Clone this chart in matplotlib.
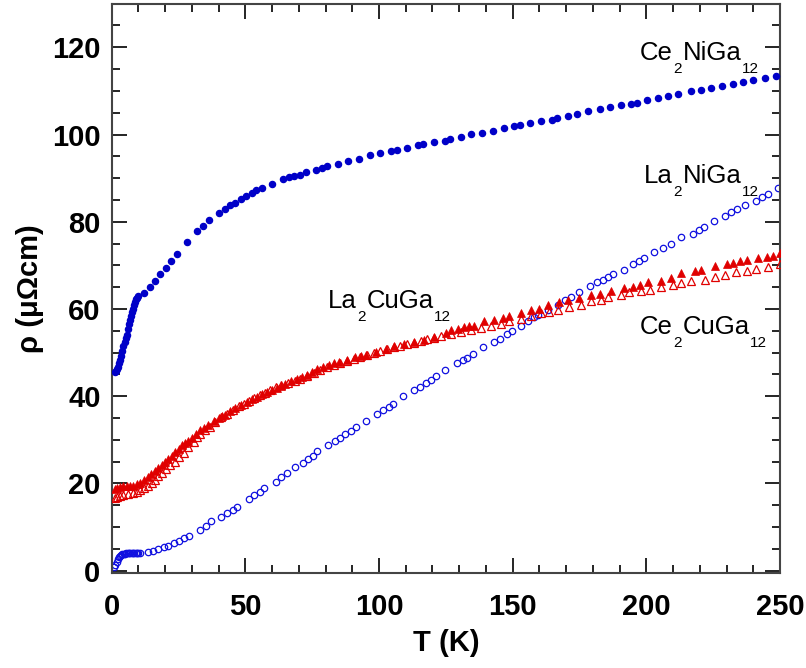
import numpy as np
import matplotlib
matplotlib.use('Agg')
import matplotlib.pyplot as plt
from matplotlib.ticker import MultipleLocator
from matplotlib.transforms import offset_copy

# Ce2NiGa12 - filled blue circles
ce_ni_T = [1.2, 1.6, 2.0, 2.4, 2.8, 3.2, 3.6, 4.0, 4.4, 4.8, 5.2, 5.6, 6.0, 6.4, 6.8, 7.2, 7.6,
           8.0, 8.4, 8.8, 9.2, 9.6, 10.0, 12.2, 14.2, 16.2, 18.2, 20.3, 22.2, 24.3, 28.3, 32.0,
           34.2, 36.3, 40.2, 42.2, 44.2, 46.2, 48.2, 50.1, 52.3, 54.1, 56.3, 60.1, 64.1, 66.2,
           68.2, 70.3, 72.5, 76.5, 78.7, 80.6, 84.7, 88.5, 92.5, 96.5, 100.5, 104.4, 106.6,
           110.6, 114.5, 116.6, 120.6, 124.5, 126.6, 130.6, 134.6, 138.6, 142.6, 146.6, 150.6,
           152.6, 156.6, 160.6, 164.6, 166.6, 170.6, 173.9, 178.3, 182.6, 186.4, 190.5, 194.2,
           196.4, 200.3, 204.2, 208.2, 212.0, 216.6, 220.4, 224.2, 228.5, 232.3, 236.3, 240.0,
           244.4, 248.5]
ce_ni_rho = [45.5, 45.8, 46.3, 46.8, 47.5, 48.3, 49.3, 50.4, 51.4, 52.4, 53.3, 54.0, 55.3, 56.5,
             57.4, 58.3, 59.2, 60.0, 60.8, 61.6, 62.2, 62.6, 62.9, 63.7, 65.1, 66.5, 68.0, 69.4,
             70.9, 72.5, 75.4, 77.8, 79.1, 80.3, 82.0, 83.0, 83.8, 84.4, 85.2, 85.9, 86.5, 87.2,
             87.8, 88.6, 89.7, 90.2, 90.5, 90.8, 91.3, 91.9, 92.3, 92.7, 93.3, 94.0, 94.5, 95.2,
             95.7, 96.2, 96.4, 97.0, 97.5, 97.9, 98.3, 98.6, 99.0, 99.5, 100.1, 100.4, 100.9,
             101.5, 101.9, 102.2, 102.6, 103.1, 103.4, 103.7, 104.3, 104.7, 105.3, 105.9, 106.3,
             106.7, 107.1, 107.3, 107.9, 108.3, 108.9, 109.3, 109.9, 110.2, 110.6, 111.2, 111.6,
             112.0, 112.5, 113.0, 113.5]

# La2NiGa12 - open blue circles
la_ni_T = [1.0, 1.4, 1.8, 2.2, 2.6, 3.0, 3.5, 4.0, 4.5, 5.0, 5.5, 6.0, 6.5, 7.0, 7.5, 8.0, 8.5,
           9.0, 9.5, 10.0, 10.6, 13.7, 15.6, 17.5, 19.4, 21.2, 23.4, 25.3, 27.2, 29.1, 33.1,
           35.4, 37.2, 41.0, 43.2, 45.2, 46.8, 51.5, 53.4, 55.5, 56.9, 61.5, 63.5, 65.4, 68.7,
           71.6, 73.4, 75.4, 76.9, 80.9, 83.5, 85.3, 87.2, 89.4, 91.3, 95.0, 99.4, 101.6, 103.7,
           105.4, 109.1, 113.1, 115.3, 117.5, 119.6, 121.5, 124.7, 129.2, 131.5, 133.1, 135.0,
           138.8, 143.0, 145.3, 147.8, 149.9, 153.1, 155.9, 158.1, 159.6, 163.1, 166.9, 169.7,
           171.8, 175.0, 179.1, 181.5, 183.7, 185.6, 187.5, 191.6, 195.0, 197.1, 199.1, 202.9,
           206.2, 209.3, 213.1, 217.5, 219.6, 221.6, 225.4, 229.6, 231.8, 233.9, 236.8, 241.2,
           243.1, 245.6, 249.3]
la_ni_rho = [0.9, 1.4, 2.1, 2.7, 3.1, 3.4, 3.6, 3.75, 3.85, 3.9, 4.0, 4.0, 4.05, 4.05, 4.1, 4.1,
             4.1, 4.1, 4.1, 4.15, 4.15, 4.35, 4.6, 4.9, 5.35, 5.7, 6.3, 6.8, 7.4, 8.0, 9.3, 10.3,
             11.3, 12.4, 13.2, 14.0, 14.6, 16.4, 17.3, 18.1, 19.0, 20.4, 21.4, 22.3, 23.7, 24.7,
             25.6, 26.3, 27.4, 28.8, 29.7, 30.5, 31.3, 32.0, 32.9, 34.4, 35.9, 36.8, 37.6, 38.3,
             40.1, 41.4, 42.1, 43.0, 43.8, 44.6, 46.1, 47.5, 48.3, 48.8, 49.6, 51.3, 52.4, 53.2,
             54.2, 54.9, 56.2, 57.2, 58.1, 58.7, 59.7, 61.0, 62.1, 62.7, 64.0, 65.2, 66.1, 66.7,
             67.4, 68.1, 69.0, 70.3, 70.9, 71.7, 73.0, 73.9, 74.8, 76.4, 77.3, 78.1, 78.7, 80.1,
             81.4, 82.2, 82.9, 83.9, 84.8, 85.6, 86.4, 87.7]

# CuGa12 pair - filled red triangles
cu_fill_T = [1.2, 2.0, 3.1, 4.4, 5.6, 6.8, 8.1, 9.4, 10.6, 12.0, 13.4, 14.8, 16.2, 17.5, 18.7,
             20.0, 21.2, 22.5, 23.7, 25.0, 26.2, 27.5, 28.7, 30.0, 31.5, 33.1, 34.6, 36.2, 38.1,
             40.0, 41.2, 42.5, 44.4, 46.2, 48.4, 50.6, 52.5, 54.4, 56.2, 58.1, 60.0, 61.9, 63.5,
             65.0, 67.2, 69.4, 71.2, 73.1, 75.0, 76.9, 79.0, 81.2, 83.1, 85.0, 88.1, 91.2, 93.1,
             95.0, 98.7, 102.5, 105.6, 109.3, 113.1, 116.8, 120.6, 125.0, 126.8, 129.4, 131.9,
             133.8, 135.6, 139.3, 143.1, 146.2, 148.7, 153.1, 156.8, 160.0, 163.1, 167.5, 170.6,
             175.0, 179.3, 182.5, 186.8, 191.6, 195.0, 197.5, 200.6, 205.6, 209.3, 213.1, 218.1,
             220.6, 225.6, 230.0, 232.5, 235.0, 237.5, 241.8, 245.0, 247.5, 250.0]
cu_fill_rho = [18.7, 19.0, 19.2, 19.3, 19.4, 19.4, 19.4, 19.8, 20.0, 20.8, 21.5, 22.2, 22.8,
               23.6, 24.2, 24.9, 25.6, 26.4, 27.2, 28.0, 28.8, 29.3, 29.8, 30.4, 31.3, 32.2,
               32.8, 33.5, 34.2, 34.9, 35.4, 35.8, 36.6, 37.3, 38.0, 38.7, 39.3, 39.8, 40.4,
               41.0, 41.5, 41.9, 42.4, 42.8, 43.4, 44.0, 44.5, 44.9, 45.6, 46.3, 46.7, 47.1,
               47.5, 47.9, 48.3, 49.0, 49.3, 49.5, 50.2, 50.9, 51.4, 52.0, 52.5, 53.0, 53.6,
               54.6, 55.1, 55.5, 55.8, 56.0, 56.2, 57.2, 57.5, 58.0, 58.3, 59.0, 59.7, 60.0,
               61.0, 61.6, 62.1, 62.6, 63.1, 63.5, 64.1, 64.9, 65.1, 65.4, 66.1, 66.5, 67.1,
               68.2, 68.6, 69.0, 69.9, 70.3, 70.6, 70.9, 71.3, 71.7, 72.0, 72.2, 72.8]

# CuGa12 pair - open red triangles
cu_open_T = [1.2, 2.0, 3.0, 4.4, 6.0, 8.1, 9.4, 10.6, 12.0, 13.7, 15.0, 16.2, 17.5, 18.7, 20.3,
             21.9, 23.7, 25.3, 26.9, 28.7, 30.6, 31.8, 33.1, 34.9, 36.9, 38.7, 41.0, 43.1, 45.3,
             47.5, 49.4, 51.2, 53.1, 55.6, 57.5, 59.4, 61.5, 63.5, 66.0, 68.5, 70.6, 73.1, 75.5,
             78.0, 80.5, 83.0, 85.5, 88.0, 90.5, 93.0, 95.5, 98.0, 100.5, 103.0, 105.6, 108.0,
             110.6, 113.1, 115.6, 118.1, 120.6, 123.1, 126.8, 130.6, 134.4, 138.0, 141.9, 145.6,
             148.7, 153.1, 156.8, 160.6, 163.7, 166.9, 171.2, 175.6, 179.3, 183.1, 185.8, 190.6,
             193.7, 198.1, 201.2, 205.6, 210.0, 213.1, 216.9, 221.8, 225.6, 229.3, 233.7, 237.5,
             241.2, 245.6, 250.0]
cu_open_rho = [16.6, 16.9, 17.1, 17.3, 17.5, 17.7, 18.0, 18.5, 18.9, 19.4, 20.1, 20.8, 21.6,
               22.3, 23.3, 24.2, 25.0, 26.0, 26.9, 28.3, 29.6, 30.6, 31.4, 32.2, 33.0, 34.0,
               35.2, 36.0, 36.9, 37.7, 38.3, 38.9, 39.5, 40.2, 40.8, 41.4, 42.0, 42.5, 43.0,
               43.6, 44.0, 44.7, 45.4, 46.0, 46.6, 47.2, 47.6, 48.1, 48.6, 49.0, 49.4, 49.9,
               50.4, 50.8, 51.2, 51.6, 52.0, 52.3, 52.7, 53.1, 53.4, 53.8, 54.3, 54.7, 55.2,
               55.7, 56.2, 56.6, 57.2, 57.8, 58.5, 59.0, 59.3, 59.8, 60.4, 61.0, 61.8, 62.1,
               62.7, 63.1, 63.8, 64.2, 64.4, 65.1, 65.4, 65.9, 66.4, 66.7, 67.3, 67.9, 68.4,
               68.8, 69.2, 69.6, 70.2]

# compound labels: (T, rho) of the left baseline point, text pieces
labels = [
    (197.7, 117.0, [('Ce', 0), ('2', 1), ('NiGa', 0), ('12', 1)]),
    (199.2, 88.9, [('La', 0), ('2', 1), ('NiGa', 0), ('12', 1)]),
    (81.0, 60.2, [('La', 0), ('2', 1), ('CuGa', 0), ('12', 1)]),
    (197.7, 54.2, [('Ce', 0), ('2', 1), ('CuGa', 0), ('12', 1)]),
]

plt.rcParams['font.family'] = ['Liberation Sans', 'DejaVu Sans']

fig = plt.figure(figsize=(8.06, 6.68), dpi=100)
ax = fig.add_axes([0.1386, 0.1418, 0.9677 - 0.1386, 0.9945 - 0.1418])

blue = '#0000c8'
red = '#e00000'
ax.plot(la_ni_T, la_ni_rho, 'o', ms=4.6, mfc='none', mec='#1010e0', mew=0.9, zorder=2)
ax.plot(cu_open_T, cu_open_rho, '^', ms=5.8, mfc='none', mec=red, mew=0.9, zorder=3)
ax.plot(cu_fill_T, cu_fill_rho, '^', ms=5.8, color=red, mec=red, mew=0.5, zorder=4)
ax.plot(ce_ni_T, ce_ni_rho, 'o', ms=4.4, color=blue, mec=blue, zorder=5)

ax.set_xlim(0, 250)
ax.set_ylim(-0.6, 130)
ax.xaxis.set_major_locator(MultipleLocator(50))
ax.xaxis.set_minor_locator(MultipleLocator(10))
ax.yaxis.set_major_locator(MultipleLocator(20))
ax.yaxis.set_minor_locator(MultipleLocator(5))
ax.tick_params(which='both', direction='in', top=True, right=True, width=1.2)
ax.tick_params(which='major', length=11, labelsize=21)
ax.tick_params(axis='x', which='major', pad=14)
ax.tick_params(axis='y', which='major', pad=8)
ax.tick_params(which='minor', length=5.5)
for s in ax.spines.values():
    s.set_linewidth(1.5)
    s.set_color('#444444')
for lab in ax.get_xticklabels() + ax.get_yticklabels():
    lab.set_fontweight('bold')

ax.set_xlabel('T (K)', fontsize=21, fontweight='bold', labelpad=6)
ax.set_ylabel('ρ (μΩcm)', fontsize=21, fontweight='bold', labelpad=6)

# chemical formula labels with dropped subscripts
renderer = fig.canvas.get_renderer()
for x0, y0, parts in labels:
    dx = 0.0
    for txt, is_sub in parts:
        size = 11 if is_sub else 18.5
        dy = -13 if is_sub else 0
        tr = offset_copy(ax.transData, fig=fig, x=dx, y=dy, units='dots')
        t = ax.text(x0, y0, txt, transform=tr, fontsize=size, ha='left', va='baseline',
                    zorder=6)
        dx += t.get_window_extent(renderer).width + 0.5

fig.savefig('out.png', dpi=100)
